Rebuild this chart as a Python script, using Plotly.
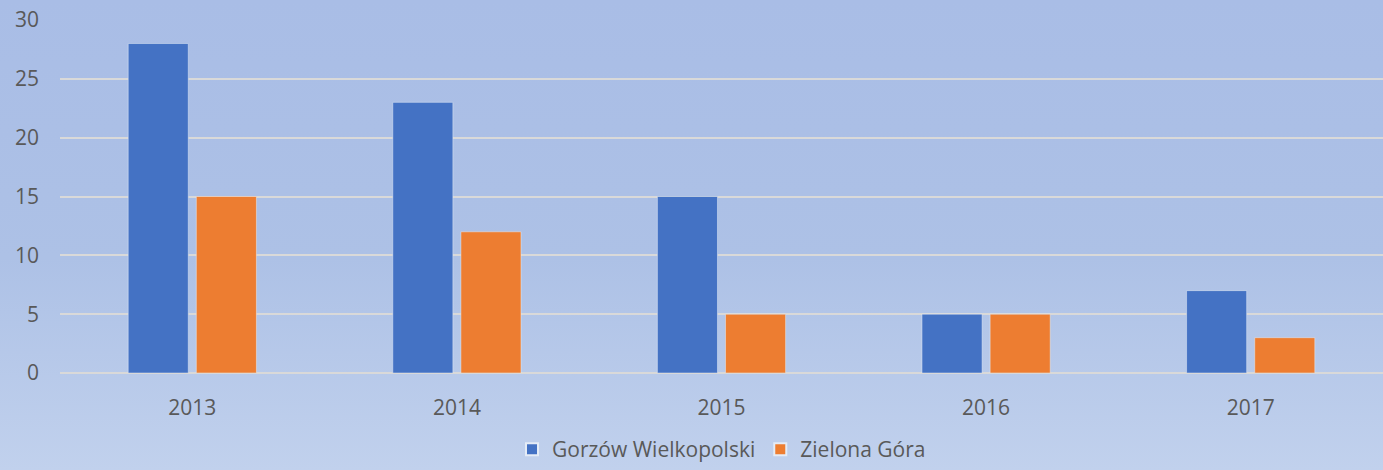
import base64
import plotly.graph_objects as go

years = ["2013", "2014", "2015", "2016", "2017"]
gorzow = [28, 23, 15, 5, 7]
zielona = [15, 12, 5, 5, 3]
series_names = ["Gorzów Wielkopolski", "Zielona Góra"]
y_ticks = [0, 5, 10, 15, 20, 25, 30]

W, H = 1383, 470
L, R, T, B = 60, 0, 20, 97
pw, ph = W - L - R, H - T - B

svg = (
    '<svg xmlns="http://www.w3.org/2000/svg" width="100" height="100" preserveAspectRatio="none">'
    '<defs><linearGradient id="g" x1="0" y1="0" x2="0" y2="1">'
    '<stop offset="0" stop-color="#a9bde6"/>'
    '<stop offset="0.55" stop-color="#adc1e6"/>'
    '<stop offset="1" stop-color="#c1d1ed"/>'
    '</linearGradient></defs>'
    '<rect width="100" height="100" fill="url(#g)"/></svg>'
)
src = "data:image/svg+xml;base64," + base64.b64encode(svg.encode()).decode()

font = dict(family="Open Sans, Noto Sans, sans-serif", size=21, color="#595959")

fig = go.Figure()
fig.add_trace(go.Bar(x=years, y=gorzow, name=series_names[0], marker_color="#4472c4"))
fig.add_trace(go.Bar(x=years, y=zielona, name=series_names[1], marker_color="#ed7d31"))

fig.update_layout(
    width=W, height=H,
    margin=dict(l=L, r=R, t=T, b=B, autoexpand=False),
    paper_bgcolor="rgba(0,0,0,0)",
    plot_bgcolor="rgba(0,0,0,0)",
    barmode="group",
    bargap=0.485,
    bargroupgap=0.118,
    font=font,
    showlegend=True,
    legend=dict(orientation="h", x=0.5, xanchor="center",
                yref="container", y=-0.01, yanchor="bottom",
                font=font, bgcolor="rgba(0,0,0,0)",
                itemsizing="constant", traceorder="normal"),
    images=[dict(source=src, xref="paper", yref="paper",
                 x=-L / pw, y=1 + T / ph, sizex=W / pw, sizey=H / ph,
                 xanchor="left", yanchor="top", sizing="stretch", layer="below")],
)
fig.update_yaxes(range=[0, 30], tickvals=y_ticks, showgrid=True, gridcolor="#d9d9d9",
                 gridwidth=1.5, zeroline=True, zerolinecolor="#d9d9d9", zerolinewidth=1.5,
                 showline=False, ticks="", ticklabelstandoff=20, tickfont=font)
fig.update_xaxes(showgrid=False, showline=False, ticks="", ticklabelstandoff=20, tickfont=font)

fig.write_html(
    "out.html",
    config={"displayModeBar": False},
    post_script="document.body.style.margin='0';document.body.style.background='#c1d1ed';",
)
